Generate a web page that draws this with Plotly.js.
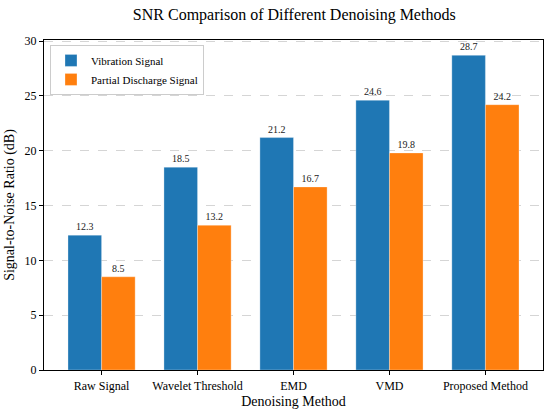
<!DOCTYPE html>
<html>
<head>
<meta charset="utf-8">
<script src="https://cdn.plot.ly/plotly-3.0.1.min.js"></script>
<style>html,body{margin:0;padding:0;background:#fff;}#chart{width:550px;height:414px;}</style>
</head>
<body>
<div id="chart"></div>
<script>
const categories = ["Raw Signal", "Wavelet Threshold", "EMD", "VMD", "Proposed Method"];
const vibrationValues = [12.3, 18.5, 21.2, 24.6, 28.7];
const partialDischargeValues = [8.5, 13.2, 16.7, 19.8, 24.2];
const seriesNames = ["Vibration Signal", "Partial Discharge Signal"];
const yTicks = [0, 5, 10, 15, 20, 25, 30];

const FONT = "\"Liberation Serif\", \"Times New Roman\", serif";
const idx = categories.map((_, i) => i);

const traces = [
  {
    type: "bar", name: seriesNames[0], x: idx, y: vibrationValues,
    offset: -0.35, width: 0.35,
    marker: {color: "#1f77b4", line: {color: "rgba(255,255,255,0.6)", width: 0.5}},
    text: vibrationValues.map(v => v.toFixed(1)), textposition: "outside",
    textfont: {family: FONT, size: 10, color: "#222"}, cliponaxis: false,
    hoverinfo: "y"
  },
  {
    type: "bar", name: seriesNames[1], x: idx, y: partialDischargeValues,
    offset: 0, width: 0.35,
    marker: {color: "#ff7f0e", line: {color: "rgba(255,255,255,0.6)", width: 0.5}},
    text: partialDischargeValues.map(v => v.toFixed(1)), textposition: "outside",
    textfont: {family: FONT, size: 10, color: "#222"}, cliponaxis: false,
    hoverinfo: "y"
  }
];

const layout = {
  width: 550, height: 414,
  margin: {l: 44, r: 7, t: 40, b: 44},
  paper_bgcolor: "#fff", plot_bgcolor: "#fff",
  font: {family: FONT, color: "#000", size: 12},
  title: {text: "SNR Comparison of Different Denoising Methods", font: {family: FONT, size: 16, color: "#000"}, x: 0.535, xanchor: "center", y: 0.965, yanchor: "middle"},
  showlegend: true,
  legend: {x: 0.012, y: 0.985, xanchor: "left", yanchor: "top", bgcolor: "rgba(255,255,255,0.8)", bordercolor: "#ccc", borderwidth: 1, font: {family: FONT, size: 11}, tracegroupgap: 0},
  bargap: 0,
  xaxis: {
    range: [-0.6, 4.6], tickmode: "array", tickvals: idx, ticktext: categories,
    ticks: "outside", ticklen: 4, tickcolor: "#000", tickwidth: 1,
    showline: true, linecolor: "#000", linewidth: 1.2, mirror: true,
    showgrid: false, zeroline: false,
    tickfont: {family: FONT, size: 12, color: "#000"},
    title: {text: "Denoising Method", font: {family: FONT, size: 14, color: "#000"}, standoff: 4}
  },
  yaxis: {
    range: [0, 30.1], tickmode: "array", tickvals: yTicks,
    ticks: "outside", ticklen: 4, tickcolor: "#000", tickwidth: 1,
    showline: true, linecolor: "#000", linewidth: 1.2, mirror: true,
    showgrid: true, gridcolor: "rgba(160,160,160,0.55)", griddash: "dash", gridwidth: 0.8,
    zeroline: false,
    tickfont: {family: FONT, size: 12, color: "#000"},
    title: {text: "Signal-to-Noise Ratio (dB)", font: {family: FONT, size: 14, color: "#000"}, standoff: 6}
  }
};

Plotly.newPlot("chart", traces, layout, {displayModeBar: false, staticPlot: true});
</script>
</body>
</html>
